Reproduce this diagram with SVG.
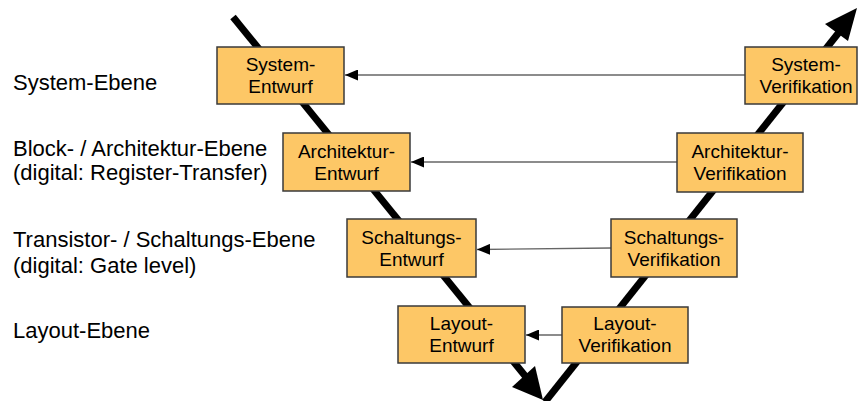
<svg xmlns="http://www.w3.org/2000/svg" width="861" height="401" viewBox="0 0 861 401">
<defs>
<style>
.lbl{font-family:"Liberation Sans",Arial,sans-serif;font-size:22px;fill:#000}
.bt{font-family:"Liberation Sans",Arial,sans-serif;font-size:19px;fill:#000;text-anchor:middle}
.box{fill:#FDC766;stroke:#3a3a3a;stroke-width:1.5}
.thin{stroke:#666;stroke-width:1.3;fill:none;marker-end:url(#ah)}
.thick{stroke:#000;stroke-width:7;fill:none}
</style>
<marker id="ah" viewBox="0 0 13 11" refX="13" refY="5.5" markerWidth="13" markerHeight="11" markerUnits="userSpaceOnUse" orient="auto">
<path d="M0,0 L13,5.5 L0,11 z" fill="#000"/>
</marker>
</defs>
<rect width="861" height="401" fill="#fff"/>
<g id="levels">
<text class="lbl" x="13" y="90">System-Ebene</text>
<text class="lbl" x="13" y="156">Block- / Architektur-Ebene</text>
<text class="lbl" x="13" y="180">(digital: Register-Transfer)</text>
<text class="lbl" x="13" y="247">Transistor- / Schaltungs-Ebene</text>
<text class="lbl" x="13" y="273">(digital: Gate level)</text>
<text class="lbl" x="13" y="338">Layout-Ebene</text>
</g>
<g id="connectors">
<line class="thick" x1="233" y1="17" x2="526" y2="377"/>
<polygon points="543,400 512,387 535,366" fill="#000"/>
<line class="thick" x1="545" y1="402" x2="840" y2="31"/>
<polygon points="857,8 848,41 825,24" fill="#000"/>
<line class="thin" x1="745" y1="75" x2="345" y2="75"/>
<line class="thin" x1="677" y1="162" x2="411" y2="162"/>
<line class="thin" x1="611" y1="248" x2="477" y2="249.5"/>
<line class="thin" x1="562" y1="335" x2="526" y2="335"/>
</g>
<g id="system-entwurf">
<rect class="box" x="217" y="47" width="127" height="57"/>
<text class="bt" x="280.5" y="71">System-</text>
<text class="bt" x="280.5" y="93">Entwurf</text>
</g>
<g id="architektur-entwurf">
<rect class="box" x="283" y="133" width="127" height="58"/>
<text class="bt" x="346.5" y="158">Architektur-</text>
<text class="bt" x="346.5" y="180">Entwurf</text>
</g>
<g id="schaltungs-entwurf">
<rect class="box" x="347" y="219" width="129" height="58"/>
<text class="bt" x="411.5" y="244">Schaltungs-</text>
<text class="bt" x="411.5" y="266">Entwurf</text>
</g>
<g id="layout-entwurf">
<rect class="box" x="398" y="306" width="127" height="57"/>
<text class="bt" x="461.5" y="330">Layout-</text>
<text class="bt" x="461.5" y="352">Entwurf</text>
</g>
<g id="system-verifikation">
<rect class="box" x="745" y="47" width="112" height="57"/>
<text class="bt" x="806" y="71">System-</text>
<text class="bt" x="806" y="93">Verifikation</text>
</g>
<g id="architektur-verifikation">
<rect class="box" x="677" y="133" width="126" height="59"/>
<text class="bt" x="740" y="158">Architektur-</text>
<text class="bt" x="740" y="180">Verifikation</text>
</g>
<g id="schaltungs-verifikation">
<rect class="box" x="611" y="219" width="126" height="58"/>
<text class="bt" x="674" y="244">Schaltungs-</text>
<text class="bt" x="674" y="266">Verifikation</text>
</g>
<g id="layout-verifikation">
<rect class="box" x="562" y="307" width="126" height="56"/>
<text class="bt" x="625" y="330">Layout-</text>
<text class="bt" x="625" y="352">Verifikation</text>
</g>
</svg>
